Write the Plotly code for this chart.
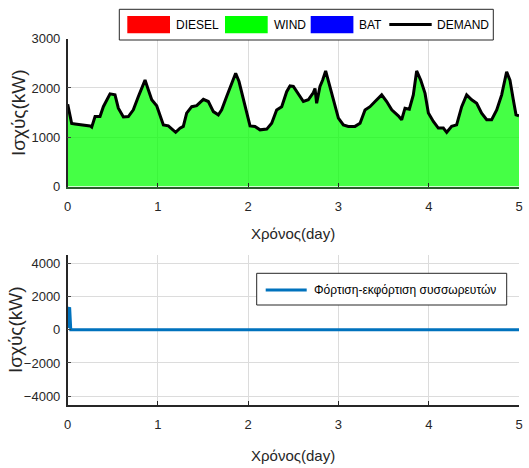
import plotly.graph_objects as go

# ---- data ----
t_days = [0.000, 0.044, 0.081, 0.210, 0.247, 0.266, 0.303, 0.358, 0.395, 0.469,
          0.524, 0.561, 0.617, 0.672, 0.727, 0.783, 0.857, 0.894, 0.931, 0.986,
          1.023, 1.060, 1.115, 1.171, 1.196, 1.244, 1.281, 1.318, 1.374, 1.429,
          1.503, 1.558, 1.614, 1.669, 1.706, 1.761, 1.817, 1.861, 1.898, 1.946,
          2.001, 2.020, 2.075, 2.131, 2.205, 2.260, 2.315, 2.371, 2.426, 2.463,
          2.500, 2.555, 2.611, 2.666, 2.722, 2.740, 2.758, 2.795, 2.825, 2.858,
          2.888, 2.943, 2.999, 3.054, 3.109, 3.183, 3.239, 3.294, 3.349, 3.405,
          3.479, 3.534, 3.590, 3.663, 3.700, 3.737, 3.785, 3.829, 3.866, 3.911,
          3.959, 3.996, 4.051, 4.106, 4.162, 4.199, 4.254, 4.309, 4.365, 4.420,
          4.476, 4.531, 4.586, 4.642, 4.697, 4.753, 4.808, 4.863, 4.900, 4.937,
          4.967, 5.000]
demand_kw = [1670, 1280, 1270, 1250, 1230, 1205, 1420, 1420, 1620, 1880,
             1860, 1590, 1410, 1420, 1555, 1825, 2160, 1960, 1760, 1640,
             1455, 1250, 1230, 1150, 1100, 1185, 1220, 1490, 1620, 1640,
             1770, 1725, 1520, 1455, 1555, 1825, 2110, 2300, 2130, 1760,
             1390, 1230, 1220, 1150, 1165, 1285, 1555, 1620, 1925, 2040,
             2030, 1890, 1725, 1760, 1905, 1990, 1690, 2030, 2160, 2345,
             2130, 1760, 1390, 1250, 1220, 1220, 1285, 1555, 1620, 1725,
             1860, 1725, 1555, 1435, 1355, 1590, 1570, 1860, 2345, 2160,
             1890, 1490, 1320, 1185, 1185, 1100, 1220, 1250, 1620, 1860,
             1760, 1690, 1490, 1355, 1355, 1555, 1860, 2330, 2160, 1760,
             1455, 1435]
wind_kw = demand_kw  # wind covers all demand

bat_t = [0.000, 0.004, 0.022, 0.034, 5.000]
bat_kw = [100, 1300, 1280, 0, 0]

x_ticks = [0, 1, 2, 3, 4, 5]
y1_ticks = [0, 1000, 2000, 3000]
y2_ticks = [-4000, -2000, 0, 2000, 4000]

W, H = 529, 468
FONT = "Liberation Sans"
TICKC = "#262626"

fig = go.Figure()

fig.add_trace(go.Scatter(x=t_days, y=wind_kw, mode="lines", fill="tozeroy",
                         fillcolor="rgba(0,255,0,0.73)", line=dict(width=0),
                         name="WIND", showlegend=False, xaxis="x", yaxis="y"))
fig.add_trace(go.Scatter(x=t_days, y=demand_kw, mode="lines",
                         line=dict(color="black", width=3),
                         name="DEMAND", showlegend=False, xaxis="x", yaxis="y"))
fig.add_trace(go.Scatter(x=bat_t, y=bat_kw, mode="lines",
                         line=dict(color="#0072BD", width=3),
                         name="Φόρτιση-εκφόρτιση συσσωρευτών", showlegend=False,
                         xaxis="x2", yaxis="y2"))

def px_x(p):
    return p / W

def px_y(p):
    return 1 - p / H

x_dom = [px_x(67.7), px_x(519)]
common_x = dict(range=[0, 5], tickvals=x_ticks, showgrid=True, gridcolor="#dcdcdc",
                gridwidth=1, zeroline=False, ticks="inside", ticklen=4,
                tickcolor="#262626", tickfont=dict(family=FONT, size=13, color=TICKC),
                ticklabelstandoff=7, domain=x_dom, fixedrange=True, automargin=False)
common_y = dict(showgrid=True, gridcolor="#dcdcdc", zeroline=False, showline=True,
                linecolor="#262626", linewidth=1.5, ticks="inside", ticklen=4,
                tickfont=dict(family=FONT, size=13, color=TICKC),
                ticklabelstandoff=3, automargin=False, fixedrange=True)
fig.update_layout(
    xaxis=dict(**common_x, anchor="y", showline=True, linecolor="#2b5b2b", linewidth=2),
    yaxis=dict(**common_y, range=[0, 3000], tickvals=y1_ticks,
               domain=[px_y(186.5), px_y(38.7)], anchor="x"),
    xaxis2=dict(**common_x, anchor="y2", showline=True, linecolor="#262626", linewidth=1.5),
    yaxis2=dict(**common_y, range=[-4500, 4500], tickvals=y2_ticks,
                domain=[px_y(404.5), px_y(255)], anchor="x2"),
    width=W, height=H, margin=dict(l=0, r=0, t=0, b=0, autoexpand=False),
    paper_bgcolor="white", plot_bgcolor="white", showlegend=False,
)

ann = []
shapes = []
# axis titles
for txt, x, y, ang, sz in [("Χρόνος(day)", 293, 233, 0, 15), ("Χρόνος(day)", 293, 455, 0, 15),
                           ("Ισχύς(kW)", 18, 113, -90, 19), ("Ισχύς(kW)", 15, 330, -90, 19)]:
    ann.append(dict(text=txt, x=px_x(x), y=px_y(y), xref="paper", yref="paper",
                    xanchor="center", yanchor="middle", showarrow=False, textangle=ang,
                    font=dict(family=FONT, size=sz, color=TICKC)))

def rect(x0, y0, x1, y1, fill=None, line="black", lw=1):
    shapes.append(dict(type="rect", xref="paper", yref="paper",
                       x0=px_x(x0), x1=px_x(x1), y0=px_y(y1), y1=px_y(y0),
                       fillcolor=fill if fill else "rgba(0,0,0,0)",
                       line=dict(color=line, width=lw)))

def label(txt, x, y, size=12):
    ann.append(dict(text=txt, x=px_x(x), y=px_y(y), xref="paper", yref="paper",
                    xanchor="left", yanchor="middle", showarrow=False,
                    font=dict(family=FONT, size=size, color="black")))

# top legend
rect(119.3, 9.3, 493.3, 40, fill="white", line="#262626", lw=1)
legend_items = [("DIESEL", "#FF0000", 127.3), ("WIND", "#00FF00", 225), ("BAT", "#0000FF", 310.7)]
for name, col, x0 in legend_items:
    rect(x0, 16, x0 + 42.7, 33.3, fill=col, line=col, lw=0)
    label(name, x0 + 46.5, 25)
shapes.append(dict(type="line", xref="paper", yref="paper", x0=px_x(389.3), x1=px_x(431.7),
                   y0=px_y(24.5), y1=px_y(24.5), line=dict(color="black", width=3)))
label("DEMAND", 435, 25)

# bottom legend
rect(256.7, 273.3, 506.7, 305, fill="white", line="#262626", lw=1)
shapes.append(dict(type="line", xref="paper", yref="paper", x0=px_x(265.7), x1=px_x(306.7),
                   y0=px_y(290), y1=px_y(290), line=dict(color="#0072BD", width=3)))
label("Φόρτιση-εκφόρτιση συσσωρευτών", 311.5, 289.5)

fig.update_layout(annotations=ann, shapes=shapes)
fig.write_html("out.html", config={"displayModeBar": False},
               post_script="document.body.style.margin='0';document.body.style.padding='0';")
